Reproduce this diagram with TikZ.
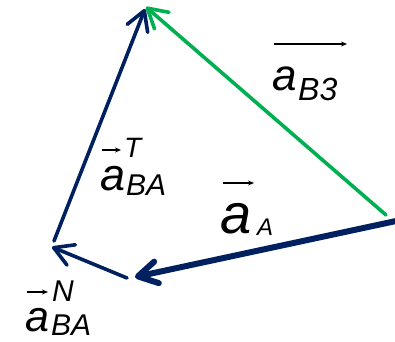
\documentclass[tikz,border=0pt]{standalone}
\usepackage{fontspec}
\setmainfont{Liberation Sans}
\usetikzlibrary{arrows.meta}
\definecolor{navy}{HTML}{002060}
\definecolor{grn}{HTML}{00B050}
\begin{document}
\begin{tikzpicture}[x=1pt,y=-1pt,
  vec/.style={line cap=round, line join=round, -{Straight Barb[length=19pt,width=22pt,line join=round,line cap=round]}},
  small/.style={line width=1.3pt, -{Stealth[length=6pt,width=5pt]}},
  lbl/.style={inner sep=0pt, anchor=base west, text=black, text depth=0pt},
  fa/.style={font=\fontsize{#1}{#1}\selectfont\itshape},
]
\useasboundingbox (0,0) rectangle (395,341);
% polygon corners
\coordinate (top) at (146,7);
\coordinate (gs) at (386,215);
\coordinate (rs) at (396,221);
\coordinate (ae) at (135,277);
\coordinate (ns) at (127,278);
\coordinate (ne) at (52,247);
\coordinate (ts) at (54,241);
\coordinate (te) at (145,9);
% vectors
\draw[vec, grn, line width=3.6pt] (gs) -- (top);
\draw[vec, navy, line width=6pt] (rs) -- (ae);
\draw[vec, navy, line width=3.6pt] (ns) -- (ne);
\draw[vec, navy, line width=3.6pt] (ts) -- (te);
% label a_B3
\node[lbl, fa=44] (b3a) at (272,90) {a};
\node[lbl, fa=32] (b3s) at (298,100) {B3};
\coordinate (b3l) at (274,44); \coordinate (b3r) at (347,44);
\draw[small] (b3l) -- (b3r);
% label a_BA^T
\node[lbl, fa=45] (ta) at (100,190) {a};
\node[lbl, fa=30] (ts2) at (126,195) {BA};
\node[lbl, fa=28] (tt) at (124,157) {T};
\coordinate (tl) at (102,150); \coordinate (tr) at (121,150);
\draw[small] (tl) -- (tr);
% label a_A
\node[lbl, fa=56] (aa) at (220,233) {a};
\node[lbl, fa=24] (as) at (257,235) {A};
\coordinate (al) at (223,183); \coordinate (ar) at (254,183);
\draw[small] (al) -- (ar);
% label a_BA^N
\node[lbl, fa=43] (na) at (25,331) {a};
\node[lbl, fa=30] (ns2) at (51,335) {BA};
\node[lbl, fa=30] (nn) at (52,301) {N};
\coordinate (nl) at (27,292); \coordinate (nr) at (48,292);
\draw[small] (nl) -- (nr);
\end{tikzpicture}
\end{document}
